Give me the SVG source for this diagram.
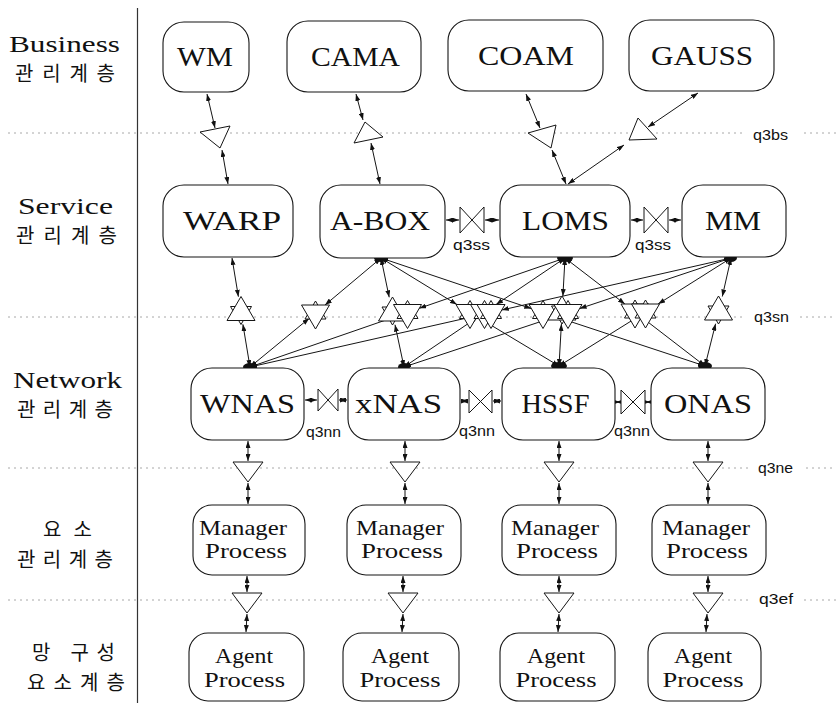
<svg xmlns="http://www.w3.org/2000/svg" xmlns:xlink="http://www.w3.org/1999/xlink" width="836" height="703" viewBox="0 0 836 703">
  <style>
    .box { fill: #fff; stroke: #151515; stroke-width: 1.1; }
    .ttl { font-family: "Liberation Serif", "DejaVu Serif", serif; font-size: 28px; fill: #111; text-anchor: middle; }
    .sub { font-family: "Liberation Serif", "DejaVu Serif", serif; font-size: 21px; fill: #111; text-anchor: middle; }
    .lay { font-family: "Liberation Serif", "DejaVu Serif", serif; font-size: 24px; fill: #111; }
    .kr { font-family: "Noto Sans CJK KR", "Noto Sans", sans-serif; font-size: 20px; fill: #111; }
    .rp { font-family: "Liberation Sans", "DejaVu Sans", sans-serif; font-size: 14px; fill: #111; }
    .ref { fill: #fff; stroke: #151515; stroke-width: 1; }
    .ln { fill: none; stroke: #151515; stroke-width: 1; marker-start: url(#ah); marker-end: url(#ah); }
    .dash { stroke: #a8a8a8; stroke-width: 1; stroke-dasharray: 2 4; fill: none; }
    .hub { fill: #111; }
  </style>
  <defs>
    <marker id="ah" viewBox="0 0 7 5" refX="7" refY="2.5" markerWidth="7" markerHeight="5" markerUnits="userSpaceOnUse" orient="auto-start-reverse">
      <path d="M0,0 L7,2.5 L0,5 Z" fill="#111"/>
    </marker>
    <!-- q3sn reference-point symbols: large triangle over a smaller opposite one -->
    <g id="star-up">
      <polygon class="ref" points="0,12 10.5,-6 -10.5,-6"/>
      <polygon class="ref" points="0,-16 14,8 -14,8"/>
    </g>
    <g id="star-dn">
      <polygon class="ref" points="0,-12 10.5,6 -10.5,6"/>
      <polygon class="ref" points="0,16 14,-8 -14,-8"/>
    </g>
  </defs>

  <rect width="836" height="703" fill="#fff"/>

  <!-- layer separators and reference-point names -->
  <g id="layers">
    <line x1="137.5" y1="8" x2="137.5" y2="703" stroke="#333" stroke-width="1.2"/>
    <path class="dash" d="M8,133 H746 M804,133 H836"/>
    <path class="dash" d="M8,317 H746 M800,317 H836"/>
    <path class="dash" d="M8,468 H748 M806,468 H836"/>
    <path class="dash" d="M8,600 H748 M804,600 H836"/>
    <text class="rp" x="753" y="140" textLength="35" lengthAdjust="spacingAndGlyphs">q3bs</text>
    <text class="rp" x="754" y="322" textLength="35" lengthAdjust="spacingAndGlyphs">q3sn</text>
    <text class="rp" x="758" y="473" textLength="35" lengthAdjust="spacingAndGlyphs">q3ne</text>
    <text class="rp" x="759" y="604" textLength="34" lengthAdjust="spacingAndGlyphs">q3ef</text>

    <!-- two-line layer names: English / Korean -->
    <text class="lay" x="9" y="52" textLength="111" lengthAdjust="spacingAndGlyphs">Business</text>
    <text class="kr" x="15" y="81" textLength="100" lengthAdjust="spacing">관리계층</text>
    <text class="lay" x="18" y="214" textLength="95" lengthAdjust="spacingAndGlyphs">Service</text>
    <text class="kr" x="16" y="243" textLength="101" lengthAdjust="spacing">관리계층</text>
    <text class="lay" x="13" y="388" textLength="109" lengthAdjust="spacingAndGlyphs">Network</text>
    <text class="kr" x="17" y="417" textLength="96" lengthAdjust="spacing">관리계층</text>
    <text class="kr" x="43" y="537" textLength="49" lengthAdjust="spacing">요소</text>
    <text class="kr" x="17" y="567" textLength="96" lengthAdjust="spacing">관리계층</text>
    <text class="kr" x="32" y="660" textLength="83" lengthAdjust="spacing">망 구성</text>
    <text class="kr" x="27" y="690" textLength="98" lengthAdjust="spacing">요소계층</text>
  </g>

  <!-- connectors -->
  <g id="connectors">
    <!-- business to service (q3bs) -->
    <line class="ln" x1="207" y1="94" x2="215" y2="128"/>
    <line class="ln" x1="222" y1="150" x2="228" y2="184"/>
    <line class="ln" x1="356" y1="94" x2="363" y2="120"/>
    <line class="ln" x1="371" y1="143" x2="380" y2="184"/>
    <line class="ln" x1="526" y1="94" x2="540" y2="128"/>
    <line class="ln" x1="552" y1="150" x2="566" y2="184"/>
    <line class="ln" x1="698" y1="93" x2="648" y2="127"/>
    <line class="ln" x1="624" y1="145" x2="568" y2="184"/>
    <polygon class="ref" points="200,132 230,126 220,148"/>
    <polygon class="ref" points="354,143 365,122 383,137"/>
    <polygon class="ref" points="528,133 556,125 551,148"/>
    <polygon class="ref" points="629,140 638,118 657,139"/>

    <!-- service peers (q3ss) -->
    <line class="ln" x1="446" y1="220" x2="459" y2="220"/>
    <line class="ln" x1="485" y1="220" x2="499" y2="220"/>
    <line class="ln" x1="631" y1="220" x2="643" y2="220"/>
    <line class="ln" x1="669" y1="220" x2="681" y2="220"/>
    <polygon class="ref" points="460,207 484,233 484,207 460,233"/>
    <polygon class="ref" points="644,207 668,233 668,207 644,233"/>
    <text class="rp" x="453" y="250" textLength="37" lengthAdjust="spacingAndGlyphs">q3ss</text>
    <text class="rp" x="635" y="250" textLength="36" lengthAdjust="spacingAndGlyphs">q3ss</text>

    <!-- service to network mesh (q3sn) -->
    <line class="ln" x1="232" y1="258" x2="238.4" y2="296.7"/>
    <line class="ln" x1="242.9" y1="324.3" x2="250" y2="367"/>
    <line class="ln" x1="381" y1="258" x2="325" y2="305"/>
    <line class="ln" x1="309.2" y1="318.3" x2="250" y2="367"/>
    <line class="ln" x1="381" y1="258" x2="389.2" y2="297.3"/>
    <line class="ln" x1="395" y1="324.7" x2="404" y2="367"/>
    <line class="ln" x1="381" y1="258" x2="456.9" y2="304.5"/>
    <line class="ln" x1="476.9" y1="316.7" x2="559" y2="366"/>
    <line class="ln" x1="381" y1="258" x2="531.3" y2="308.6"/>
    <line class="ln" x1="550.8" y1="315.1" x2="705" y2="366"/>
    <line class="ln" x1="565" y1="258" x2="419.3" y2="308.3"/>
    <line class="ln" x1="399.8" y1="315.2" x2="250" y2="367"/>
    <line class="ln" x1="565" y1="258" x2="496.1" y2="304.5"/>
    <line class="ln" x1="477.8" y1="317.1" x2="404" y2="367"/>
    <line class="ln" x1="565" y1="258" x2="562.9" y2="296"/>
    <line class="ln" x1="561.4" y1="324" x2="559" y2="366"/>
    <line class="ln" x1="565" y1="258" x2="624.9" y2="304"/>
    <line class="ln" x1="641.4" y1="317" x2="705" y2="366"/>
    <line class="ln" x1="731" y1="258" x2="501.8" y2="310"/>
    <line class="ln" x1="482.8" y1="314.4" x2="250" y2="367"/>
    <line class="ln" x1="731" y1="258" x2="579.6" y2="308.6"/>
    <line class="ln" x1="560.2" y1="315.1" x2="404" y2="367"/>
    <line class="ln" x1="731" y1="258" x2="658.1" y2="304"/>
    <line class="ln" x1="638.7" y1="316.3" x2="559" y2="366"/>
    <line class="ln" x1="731" y1="258" x2="722.3" y2="296.5"/>
    <line class="ln" x1="715.6" y1="323.7" x2="705" y2="366"/>
    <use xlink:href="#star-up" x="241" y="312.5"/>
    <use xlink:href="#star-dn" x="315.5" y="313"/>
    <use xlink:href="#star-up" x="392.5" y="313"/>
    <use xlink:href="#star-dn" x="407.5" y="312.5"/>
    <use xlink:href="#star-dn" x="470" y="312.5"/>
    <use xlink:href="#star-dn" x="484.5" y="312.5"/>
    <use xlink:href="#star-dn" x="491" y="312.5"/>
    <use xlink:href="#star-dn" x="543" y="312.5"/>
    <use xlink:href="#star-up" x="562" y="312"/>
    <use xlink:href="#star-dn" x="568" y="312.5"/>
    <use xlink:href="#star-dn" x="635" y="312"/>
    <use xlink:href="#star-dn" x="645.5" y="312"/>
    <use xlink:href="#star-up" x="718.5" y="312"/>
    <ellipse class="hub" cx="381" cy="258" rx="7" ry="4"/>
    <ellipse class="hub" cx="565" cy="258" rx="8" ry="4"/>
    <ellipse class="hub" cx="731" cy="258" rx="6" ry="4"/>
    <ellipse class="hub" cx="250" cy="367" rx="7" ry="4"/>
    <ellipse class="hub" cx="404" cy="367" rx="6" ry="4"/>
    <ellipse class="hub" cx="559" cy="366" rx="8" ry="4"/>
    <ellipse class="hub" cx="705" cy="366" rx="7" ry="4"/>

    <!-- network peers (q3nn) -->
    <line class="ln" x1="305" y1="400" x2="317" y2="400"/>
    <line class="ln" x1="339" y1="400" x2="347" y2="400"/>
    <line class="ln" x1="461" y1="401" x2="468" y2="401"/>
    <line class="ln" x1="493" y1="401" x2="501" y2="401"/>
    <line class="ln" x1="616" y1="402" x2="620" y2="402"/>
    <line class="ln" x1="646" y1="402" x2="650" y2="402"/>
    <polygon class="ref" points="318,389 338,411 338,389 318,411"/>
    <polygon class="ref" points="469,390 492,413 492,390 469,413"/>
    <polygon class="ref" points="621,390 645,414 645,390 621,414"/>
    <text class="rp" x="306" y="437" textLength="35" lengthAdjust="spacingAndGlyphs">q3nn</text>
    <text class="rp" x="459" y="436" textLength="36" lengthAdjust="spacingAndGlyphs">q3nn</text>
    <text class="rp" x="614" y="436" textLength="36" lengthAdjust="spacingAndGlyphs">q3nn</text>

    <!-- network to element management (q3ne) -->
    <line class="ln" x1="248" y1="441" x2="248" y2="461"/>
    <line class="ln" x1="248" y1="483" x2="248" y2="504"/>
    <line class="ln" x1="405" y1="441" x2="405" y2="461"/>
    <line class="ln" x1="405" y1="483" x2="405" y2="504"/>
    <line class="ln" x1="559" y1="441" x2="559" y2="461"/>
    <line class="ln" x1="559" y1="483" x2="559" y2="504"/>
    <line class="ln" x1="708" y1="441" x2="708" y2="461"/>
    <line class="ln" x1="708" y1="483" x2="708" y2="504"/>
    <polygon class="ref" points="233,462 263,462 248,482"/>
    <polygon class="ref" points="390,462 420,462 405,482"/>
    <polygon class="ref" points="544,462 574,462 559,482"/>
    <polygon class="ref" points="693,462 723,462 708,482"/>

    <!-- element management to network elements (q3ef) -->
    <line class="ln" x1="247" y1="576" x2="247" y2="592"/>
    <line class="ln" x1="247" y1="614" x2="246" y2="632"/>
    <line class="ln" x1="403" y1="576" x2="403" y2="592"/>
    <line class="ln" x1="403" y1="614" x2="402" y2="632"/>
    <line class="ln" x1="559" y1="576" x2="559" y2="592"/>
    <line class="ln" x1="559" y1="614" x2="558" y2="632"/>
    <line class="ln" x1="708" y1="576" x2="708" y2="592"/>
    <line class="ln" x1="707" y1="614" x2="706" y2="632"/>
    <polygon class="ref" points="232,593 262,593 247,613"/>
    <polygon class="ref" points="388,593 418,593 403,613"/>
    <polygon class="ref" points="544,593 574,593 559,613"/>
    <polygon class="ref" points="693,593 723,593 708,613"/>
  </g>

  <!-- business management layer -->
  <g id="WM"><rect class="box" x="163" y="22" width="86" height="70" rx="21"/><text class="ttl" x="205" y="66" textLength="56" lengthAdjust="spacingAndGlyphs">WM</text></g>
  <g id="CAMA"><rect class="box" x="287" y="21" width="134" height="71" rx="21"/><text class="ttl" x="355.5" y="66" textLength="89" lengthAdjust="spacingAndGlyphs">CAMA</text></g>
  <g id="COAM"><rect class="box" x="448" y="20" width="155" height="71" rx="21"/><text class="ttl" x="526" y="65" textLength="96" lengthAdjust="spacingAndGlyphs">COAM</text></g>
  <g id="GAUSS"><rect class="box" x="629" y="20" width="145" height="71" rx="21"/><text class="ttl" x="702" y="65" textLength="102" lengthAdjust="spacingAndGlyphs">GAUSS</text></g>

  <!-- service management layer -->
  <g id="WARP"><rect class="box" x="163" y="185" width="130" height="72" rx="21"/><text class="ttl" x="232" y="230" textLength="98" lengthAdjust="spacingAndGlyphs">WARP</text></g>
  <g id="A-BOX"><rect class="box" x="320" y="185" width="125" height="73" rx="21"/><text class="ttl" x="380" y="230" textLength="100" lengthAdjust="spacingAndGlyphs">A-BOX</text></g>
  <g id="LOMS"><rect class="box" x="500" y="185" width="130" height="72" rx="21"/><text class="ttl" x="565.5" y="230" textLength="87" lengthAdjust="spacingAndGlyphs">LOMS</text></g>
  <g id="MM"><rect class="box" x="682" y="185" width="104" height="72" rx="21"/><text class="ttl" x="733" y="230" textLength="56" lengthAdjust="spacingAndGlyphs">MM</text></g>

  <!-- network management layer -->
  <g id="WNAS"><rect class="box" x="191" y="368" width="113" height="72" rx="21"/><text class="ttl" x="247.5" y="413" textLength="95" lengthAdjust="spacingAndGlyphs">WNAS</text></g>
  <g id="xNAS"><rect class="box" x="348" y="368" width="112" height="72" rx="21"/><text class="ttl" x="398.5" y="413" textLength="87" lengthAdjust="spacingAndGlyphs">xNAS</text></g>
  <g id="HSSF"><rect class="box" x="502" y="368" width="113" height="72" rx="21"/><text class="ttl" x="555.5" y="413" textLength="68" lengthAdjust="spacingAndGlyphs">HSSF</text></g>
  <g id="ONAS"><rect class="box" x="651" y="368" width="114" height="72" rx="21"/><text class="ttl" x="708" y="413" textLength="88" lengthAdjust="spacingAndGlyphs">ONAS</text></g>

  <!-- element management layer -->
  <g id="manager-1"><rect class="box" x="193" y="505" width="112" height="70" rx="19"/><text class="sub" x="243" y="535" textLength="88" lengthAdjust="spacingAndGlyphs">Manager</text><text class="sub" x="246" y="558" textLength="82" lengthAdjust="spacingAndGlyphs">Process</text></g>
  <g id="manager-2"><rect class="box" x="347" y="505" width="114" height="70" rx="19"/><text class="sub" x="400" y="535" textLength="88" lengthAdjust="spacingAndGlyphs">Manager</text><text class="sub" x="402" y="558" textLength="82" lengthAdjust="spacingAndGlyphs">Process</text></g>
  <g id="manager-3"><rect class="box" x="502" y="505" width="114" height="70" rx="19"/><text class="sub" x="555" y="535" textLength="88" lengthAdjust="spacingAndGlyphs">Manager</text><text class="sub" x="557" y="558" textLength="82" lengthAdjust="spacingAndGlyphs">Process</text></g>
  <g id="manager-4"><rect class="box" x="652" y="505" width="114" height="70" rx="19"/><text class="sub" x="706" y="535" textLength="88" lengthAdjust="spacingAndGlyphs">Manager</text><text class="sub" x="707" y="558" textLength="82" lengthAdjust="spacingAndGlyphs">Process</text></g>

  <!-- network element layer -->
  <g id="agent-1"><rect class="box" x="189" y="633" width="115" height="68" rx="19"/><text class="sub" x="244" y="663" textLength="58" lengthAdjust="spacingAndGlyphs">Agent</text><text class="sub" x="244.5" y="687" textLength="81" lengthAdjust="spacingAndGlyphs">Process</text></g>
  <g id="agent-2"><rect class="box" x="343" y="633" width="116" height="68" rx="19"/><text class="sub" x="400" y="663" textLength="58" lengthAdjust="spacingAndGlyphs">Agent</text><text class="sub" x="400" y="687" textLength="81" lengthAdjust="spacingAndGlyphs">Process</text></g>
  <g id="agent-3"><rect class="box" x="500" y="633" width="115" height="68" rx="19"/><text class="sub" x="556" y="663" textLength="58" lengthAdjust="spacingAndGlyphs">Agent</text><text class="sub" x="556" y="687" textLength="81" lengthAdjust="spacingAndGlyphs">Process</text></g>
  <g id="agent-4"><rect class="box" x="648" y="633" width="113" height="68" rx="19"/><text class="sub" x="703" y="663" textLength="58" lengthAdjust="spacingAndGlyphs">Agent</text><text class="sub" x="703" y="687" textLength="81" lengthAdjust="spacingAndGlyphs">Process</text></g>
</svg>
